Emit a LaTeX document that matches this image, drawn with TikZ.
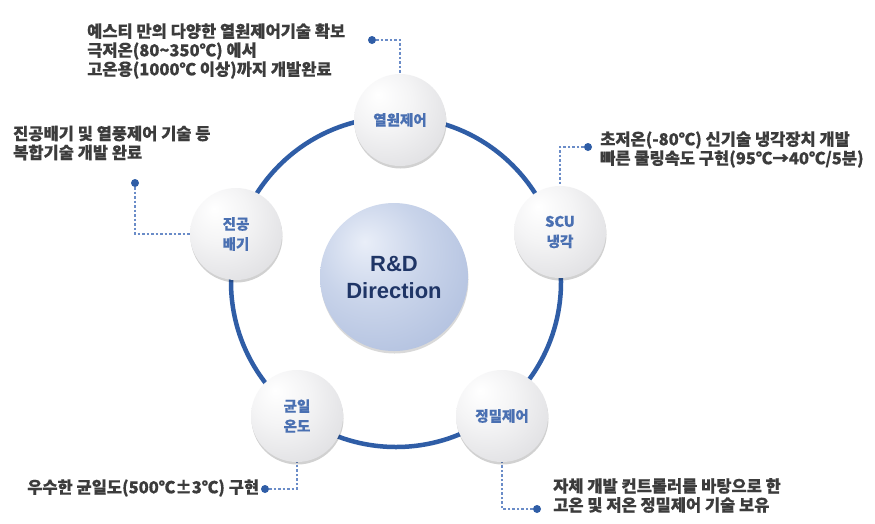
\documentclass[tikz,border=0pt]{standalone}
\usepackage{fontspec}
\setmainfont{Noto Sans CJK KR}[BoldFeatures={FakeBold=0.4}]
\newfontfamily\latfont{Liberation Sans}
\usetikzlibrary{shadows,backgrounds}
\definecolor{ringblue}{HTML}{2F5DA6}
\definecolor{leadblue}{HTML}{6A8CC8}
\definecolor{lblblue}{HTML}{4A70B2}
\definecolor{txtgray}{HTML}{3C3C3C}
\definecolor{navy}{HTML}{1F3566}
\definecolor{gA}{HTML}{FFFFFF}
\definecolor{gB}{HTML}{F4F4F5}
\definecolor{gC}{HTML}{DDDDE0}
\definecolor{gD}{HTML}{C8C8CC}
\definecolor{bA}{HTML}{E9EEF8}
\definecolor{bB}{HTML}{C9D4EA}
\definecolor{bC}{HTML}{ABBBDC}
\definecolor{bD}{HTML}{8A9DC8}
\pgfdeclareradialshading{graysph}{\pgfpoint{-12bp}{14bp}}{color(0bp)=(gA); color(16bp)=(gB); color(40bp)=(gC); color(62bp)=(gD); color(75bp)=(gD)}
\pgfdeclareradialshading{bluesph}{\pgfpoint{-10bp}{12bp}}{color(0bp)=(bA); color(18bp)=(bB); color(42bp)=(bC); color(62bp)=(bD); color(75bp)=(bD)}
\tikzset{
  sph/.style={circle, minimum size=92pt, inner sep=0pt, shading=graysph,
    drop shadow={shadow xshift=0.5pt, shadow yshift=-2.5pt, opacity=0.18, fill=black},
    font=\fontsize{14.5}{20}\selectfont\bfseries, text=lblblue, align=center},
  core/.style={circle, minimum size=148pt, inner sep=0pt, shading=bluesph,
    drop shadow={shadow xshift=0.5pt, shadow yshift=-2.5pt, opacity=0.15, fill=black},
    font=\latfont\fontsize{22}{27}\selectfont\bfseries, text=navy, align=center},
  desc/.style={inner sep=0pt, align=left, text=txtgray,
    font=\fontsize{16.5}{19}\selectfont\bfseries},
  dotn/.style={circle, fill=ringblue, minimum size=8pt, inner sep=0pt},
  lead/.style={leadblue, line width=1.3pt, dash pattern=on 2.5pt off 2pt},
  ring/.style={ringblue, line width=4.5pt}
}
\begin{document}
\begin{tikzpicture}[x=1pt,y=-1pt]
\path[use as bounding box] (0,0) rectangle (875,523);
\coordinate (rc) at (396,282);
% spheres
\node[core] (c) at (394,277) {R\&D\\Direction};
\node[sph] (n1) at (400,120) {열원제어};
\node[sph] (n2) at (236,234) {진공\\배기};
\node[sph] (n3) at (560,232) {SCU\\냉각};
\node[sph] (n4) at (297,416) {균일\\온도};
\node[sph] (n5) at (502,416) {정밀제어};
% dots
\node[dotn] (d1) at (372,40) {};
\node[dotn] (d2) at (135,183) {};
\node[dotn] (d3) at (588,147) {};
\node[dotn] (d4) at (265,489) {};
\node[dotn] (d5) at (537,509) {};
% texts
\node[desc, anchor=west] (t1) at (87,51) {예스티 만의 다양한 열원제어기술 확보\\극저온(80\textasciitilde350℃) 에서\\고온용(1000℃ 이상)까지 개발완료};
\node[desc, anchor=west] (t2) at (13,143) {진공배기 및 열풍제어 기술 등\\복합기술 개발 완료};
\node[desc, anchor=west] (t3) at (600,149.5) {초저온(-80℃) 신기술 냉각장치 개발\\빠른 쿨링속도 구현(95℃→40℃/5분)};
\node[desc, anchor=west] (t4) at (27,488) {우수한 균일도(500℃±3℃) 구현};
\node[desc, anchor=west] (t5) at (553,495.5) {자체 개발 컨트롤러를 바탕으로 한\\고온 및 저온 정밀제어 기술 보유};
\begin{pgfonlayer}{background}
\fill[white] (0,0) rectangle (875,523);
\draw[ring] (rc) circle[radius=165];
\draw[lead] (d1) -| (n1.north);
\draw[lead] (d2) |- (n2.west);
\draw[lead] (d3) -| (n3.north);
\draw[lead] (d4) -| (n4.south);
\draw[lead] (d5) -| (n5.south);
\end{pgfonlayer}
\end{tikzpicture}
\end{document}
